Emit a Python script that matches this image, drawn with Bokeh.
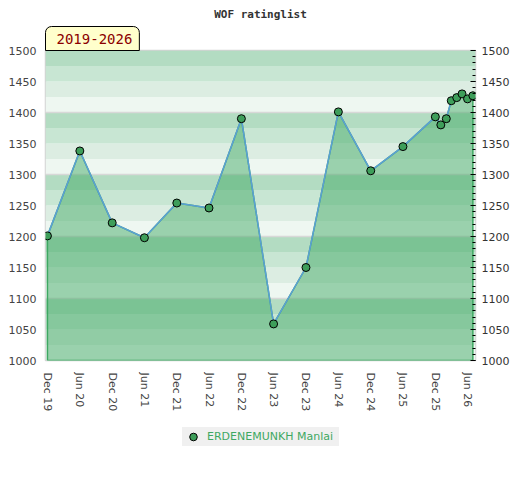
import pandas as pd
from bokeh.plotting import figure
from bokeh.layouts import column
from bokeh.models import (Range1d, LinearAxis, SingleIntervalTicker, FixedTicker,
                          BoxAnnotation, Title, Legend, LegendItem, ColumnDataSource)
from bokeh.embed import file_html
from bokeh.resources import INLINE

# ---- data ----
player = "ERDENEMUNKH Manlai"
period_label = "2019-2026"
title_text = "WOF ratinglist"
dates = ["2019-12", "2020-06", "2020-12", "2021-06", "2021-12", "2022-06", "2022-12",
         "2023-06", "2023-12", "2024-06", "2024-12", "2025-06", "2025-12", "2026-01",
         "2026-02", "2026-03", "2026-04", "2026-05", "2026-06", "2026-07"]
ratings = [1201, 1338, 1222, 1198, 1254, 1246, 1390, 1059, 1150, 1401, 1306, 1345,
           1393, 1380, 1390, 1419, 1424, 1430, 1422, 1427]
tick_dates = ["2019-12", "2020-06", "2020-12", "2021-06", "2021-12", "2022-06", "2022-12",
              "2023-06", "2023-12", "2024-06", "2024-12", "2025-06", "2025-12", "2026-06"]
tick_labels = ["Dec 19", "Jun 20", "Dec 20", "Jun 21", "Dec 21", "Jun 22", "Dec 22",
               "Jun 23", "Dec 23", "Jun 24", "Dec 24", "Jun 25", "Dec 25", "Jun 26"]
y_min, y_max = 1000, 1500

# ---- styles ----
band_colors = ["#eef7f1", "#dcede2", "#c8e6d3", "#b3dcc2"]
fill_green = "#3ea862"
marker_green = "#3e9e5a"
line_blue = "#5b9fd6"
axis_text = "#444444"

x = list(pd.to_datetime(dates))
tick_ms = [float(v) for v in (pd.to_datetime(tick_dates).asi8 // 10**6)]

p = figure(x_axis_type="datetime",
           x_range=Range1d(pd.Timestamp("2019-11-20"), pd.Timestamp("2026-07-16")),
           y_range=Range1d(y_min, y_max),
           frame_width=430, frame_height=310,
           min_border_left=45, min_border_right=37, min_border_top=50, min_border_bottom=60,
           output_backend="svg", toolbar_location=None)
p.background_fill_color = "white"
p.border_fill_color = "white"
p.outline_line_color = "#d3d3d3"
p.outline_line_width = 1.5

# background bands
for lo in range(y_min, y_max, 25):
    idx = (lo % 100) // 25
    p.add_layout(BoxAnnotation(bottom=lo, top=lo + 25, fill_color=band_colors[idx],
                               fill_alpha=1.0, line_color=None, level="image"))

p.xgrid.visible = False
p.ygrid.ticker = SingleIntervalTicker(interval=100)
p.ygrid.grid_line_color = "#d8d8d8"
p.ygrid.grid_line_width = 1.5

# area
px = [x[0]] + x + [x[-1]]
py = [y_min] + ratings + [y_min]
p.patch(px, py, fill_color=fill_green, fill_alpha=0.48, line_color=fill_green, line_width=1.5)

src = ColumnDataSource(dict(x=x, y=ratings))
p.line("x", "y", source=src, line_color=line_blue, line_width=1.5)
p.scatter("x", "y", source=src, size=8, fill_color=marker_green,
          line_color="black", line_width=1)

# x axis
xa = p.xaxis[0]
xa.ticker = FixedTicker(ticks=tick_ms)
xa.major_label_overrides = {t: lab for t, lab in zip(tick_ms, tick_labels)}
xa.major_label_orientation = "vertical"
xa.major_label_standoff = 12
xa.major_tick_in = 0
xa.major_tick_out = 0
xa.minor_tick_in = 0
xa.minor_tick_out = 0
xa.major_tick_line_color = None
xa.minor_tick_line_color = None
xa.axis_line_color = None
xa.major_label_text_font = "DejaVu Sans"
xa.major_label_text_font_size = "11px"
xa.major_label_text_color = axis_text

# left y axis
ya = p.yaxis[0]
ya.ticker = SingleIntervalTicker(interval=50)
ya.major_tick_in = 0
ya.major_tick_out = 0
ya.minor_tick_in = 0
ya.minor_tick_out = 0
ya.major_tick_line_color = None
ya.minor_tick_line_color = None
ya.axis_line_color = None
ya.major_label_standoff = 9
ya.major_label_text_font = "DejaVu Sans"
ya.major_label_text_font_size = "11px"
ya.major_label_text_color = axis_text

# right y axis
ra = LinearAxis(ticker=SingleIntervalTicker(interval=50, num_minor_ticks=5))
ra.axis_line_color = None
ra.major_tick_in = 5
ra.major_tick_out = 0
ra.minor_tick_in = 3
ra.minor_tick_out = 0
ra.major_tick_line_color = "black"
ra.minor_tick_line_color = "black"
ra.major_label_standoff = 6
ra.major_label_text_font = "DejaVu Sans"
ra.major_label_text_font_size = "11px"
ra.major_label_text_color = "#333333"
p.add_layout(ra, "right")

# main title (outermost)
p.title.text = title_text
p.title.align = "center"
p.title.text_font = "DejaVu Sans Mono"
p.title.text_font_style = "bold"
p.title.text_font_size = "11px"
p.title.text_color = "#333333"
p.title.standoff = 7

# period label box (nearest the frame)
p.add_layout(Title(text=period_label, align="left", text_font="DejaVu Sans Mono",
                   text_font_style="normal", text_font_size="14px", text_color="#8b0000",
                   background_fill_color="#ffffcc", border_line_color="black",
                   border_line_width=1,
                   padding=dict(left=11, right=7, top=7, bottom=7),
                   border_radius=dict(top_left=6, top_right=6, bottom_right=0, bottom_left=0),
                   standoff=0, offset=0), "above")

# legend strip below the chart
lf = figure(width=512, height=40, min_border=0, x_range=Range1d(0, 1), y_range=Range1d(0, 1),
            output_backend="svg", toolbar_location=None)
lf.axis.visible = False
lf.grid.visible = False
lf.outline_line_color = None
lf.background_fill_color = "white"
lf.border_fill_color = "white"
key = lf.scatter("x", "y", source=src, size=8, fill_color=marker_green,
                 line_color="black", line_width=1)
legend = Legend(items=[LegendItem(label=player, renderers=[key])],
                location=(137, 14), orientation="horizontal",
                background_fill_color="#f0f0f0", background_fill_alpha=1.0,
                border_line_color=None, padding=0, margin=0, spacing=0,
                glyph_width=22, glyph_height=19, label_height=19, label_width=132,
                label_standoff=3,
                label_text_color=fill_green, label_text_font="DejaVu Sans",
                label_text_font_size="11px")
lf.add_layout(legend)

open("out.html", "w").write(file_html(column(p, lf), INLINE))
